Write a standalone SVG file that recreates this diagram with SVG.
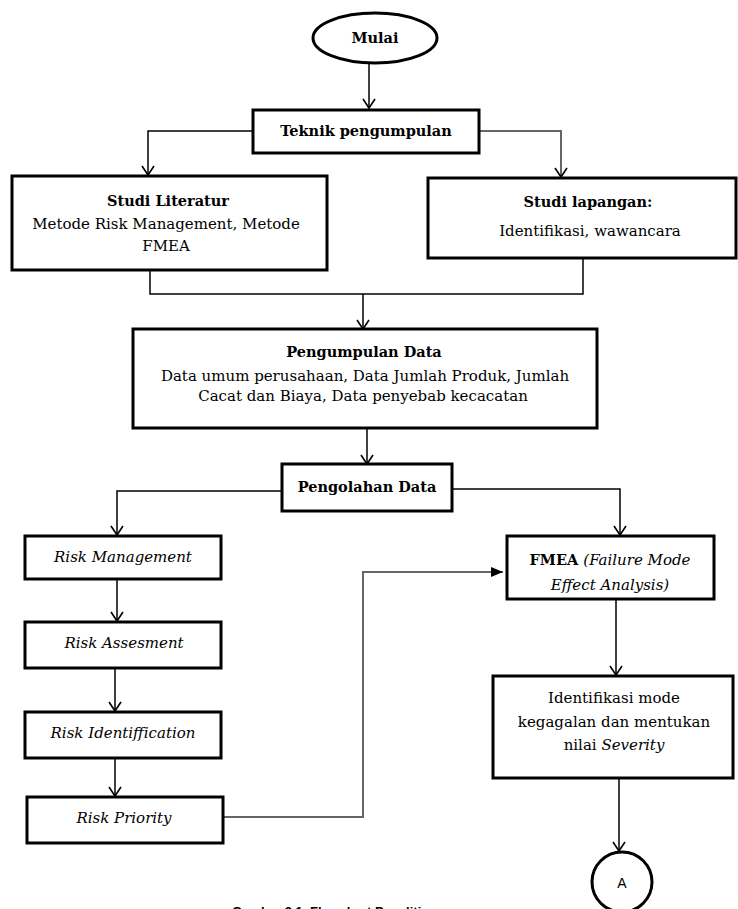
<svg xmlns="http://www.w3.org/2000/svg" width="738" height="909" viewBox="0 0 738 909">
<defs>
<marker id="open" markerUnits="userSpaceOnUse" markerWidth="16" markerHeight="16" refX="10" refY="8" orient="auto" viewBox="0 0 16 16">
<path d="M1,2 L10,8 L1,14" fill="none" stroke="#000" stroke-width="1.6"/>
</marker>
<marker id="solid" markerUnits="userSpaceOnUse" markerWidth="14" markerHeight="12" refX="12" refY="6" orient="auto" viewBox="0 0 14 12">
<path d="M0,1 L12,6 L0,11 Z" fill="#000"/>
</marker>
</defs>
<style>
.box{fill:#fff;stroke:#000;stroke-width:3}
.t{font-family:"DejaVu Serif","Liberation Serif",serif;font-size:15px;fill:#000;text-anchor:middle}
.b{font-weight:bold;font-size:14.5px}
.i{font-style:italic}
.c{fill:none;stroke:#000;stroke-width:1.5}
.g{fill:none;stroke:#666;stroke-width:2}
.cap{font-family:"Liberation Sans",Arial,sans-serif;font-weight:bold;font-size:13px;fill:#000}
</style>
<rect width="738" height="909" fill="#fff"/>
<g id="connectors">
<path class="c" d="M369,63 V108" marker-end="url(#open)"/>
<path class="c" d="M253,131 H148 V175" marker-end="url(#open)"/>
<path class="g" d="M479,131 H561 V177" marker-end="url(#open)"/>
<path class="c" d="M150,270 V294 H583 V258"/>
<path class="c" d="M363,294 V329" marker-end="url(#open)"/>
<path class="c" d="M367,428 V464" marker-end="url(#open)"/>
<path class="c" d="M282,491 H117 V535" marker-end="url(#open)"/>
<path class="c" d="M452,489 H620 V535" marker-end="url(#open)"/>
<path class="c" d="M117,579 V621" marker-end="url(#open)"/>
<path class="c" d="M115,668 V711" marker-end="url(#open)"/>
<path class="c" d="M115,758 V796" marker-end="url(#open)"/>
<path class="g" d="M223,817 H363 V572 H503" marker-end="url(#solid)"/>
<path class="c" d="M616,599 V675" marker-end="url(#open)"/>
<path class="c" d="M619,778 V851" marker-end="url(#open)"/>
</g>
<g id="mulai">
<ellipse cx="375" cy="38" rx="62" ry="25" fill="#fff" stroke="#000" stroke-width="3"/>
<text class="t b" x="375" y="43">Mulai</text>
</g>
<g id="teknik">
<rect class="box" x="253" y="110" width="226" height="43"/>
<text class="t b" x="366" y="136">Teknik pengumpulan</text>
</g>
<g id="studi-literatur">
<rect class="box" x="12" y="176" width="315" height="94"/>
<text class="t b" x="168" y="206">Studi Literatur</text>
<text class="t" x="166" y="229">Metode Risk Management, Metode</text>
<text class="t" x="166" y="251">FMEA</text>
</g>
<g id="studi-lapangan">
<rect class="box" x="428" y="178" width="308" height="80"/>
<text class="t b" x="588" y="207">Studi lapangan:</text>
<text class="t" x="590" y="236">Identifikasi, wawancara</text>
</g>
<g id="pengumpulan">
<rect class="box" x="133" y="329" width="464" height="99"/>
<text class="t b" x="364" y="357">Pengumpulan Data</text>
<text class="t" x="365" y="381">Data umum perusahaan, Data Jumlah Produk, Jumlah</text>
<text class="t" x="363" y="401">Cacat dan Biaya, Data penyebab kecacatan</text>
</g>
<g id="pengolahan">
<rect class="box" x="282" y="464" width="170" height="47"/>
<text class="t b" x="367" y="492">Pengolahan Data</text>
</g>
<g id="risk-management">
<rect class="box" x="25" y="536" width="196" height="43"/>
<text class="t i" x="123" y="562">Risk Management</text>
</g>
<g id="risk-assesment">
<rect class="box" x="25" y="622" width="196" height="46"/>
<text class="t i" x="124" y="648">Risk Assesment</text>
</g>
<g id="risk-identiffication">
<rect class="box" x="25" y="712" width="196" height="46"/>
<text class="t i" x="123" y="738">Risk Identiffication</text>
</g>
<g id="risk-priority">
<rect class="box" x="27" y="797" width="196" height="46"/>
<text class="t i" x="124" y="823">Risk Priority</text>
</g>
<g id="fmea">
<rect class="box" x="507" y="536" width="207" height="63"/>
<text class="t" x="610" y="565"><tspan class="b">FMEA </tspan><tspan class="i">(Failure Mode</tspan></text>
<text class="t i" x="610" y="590">Effect Analysis)</text>
</g>
<g id="identifikasi">
<rect class="box" x="493" y="676" width="240" height="102"/>
<text class="t" x="614" y="703">Identifikasi mode</text>
<text class="t" x="614" y="727">kegagalan dan mentukan</text>
<text class="t" x="614" y="750">nilai <tspan class="i">Severity</tspan></text>
</g>
<g id="connector-a">
<circle cx="622" cy="882" r="30" fill="#fff" stroke="#000" stroke-width="3"/>
<text x="622" y="888" font-family="Liberation Sans,Arial,sans-serif" font-size="14" text-anchor="middle">A</text>
</g>
<text class="cap" x="232" y="916">Gambar 3.1. Flowchart Penelitian</text>
</svg>
